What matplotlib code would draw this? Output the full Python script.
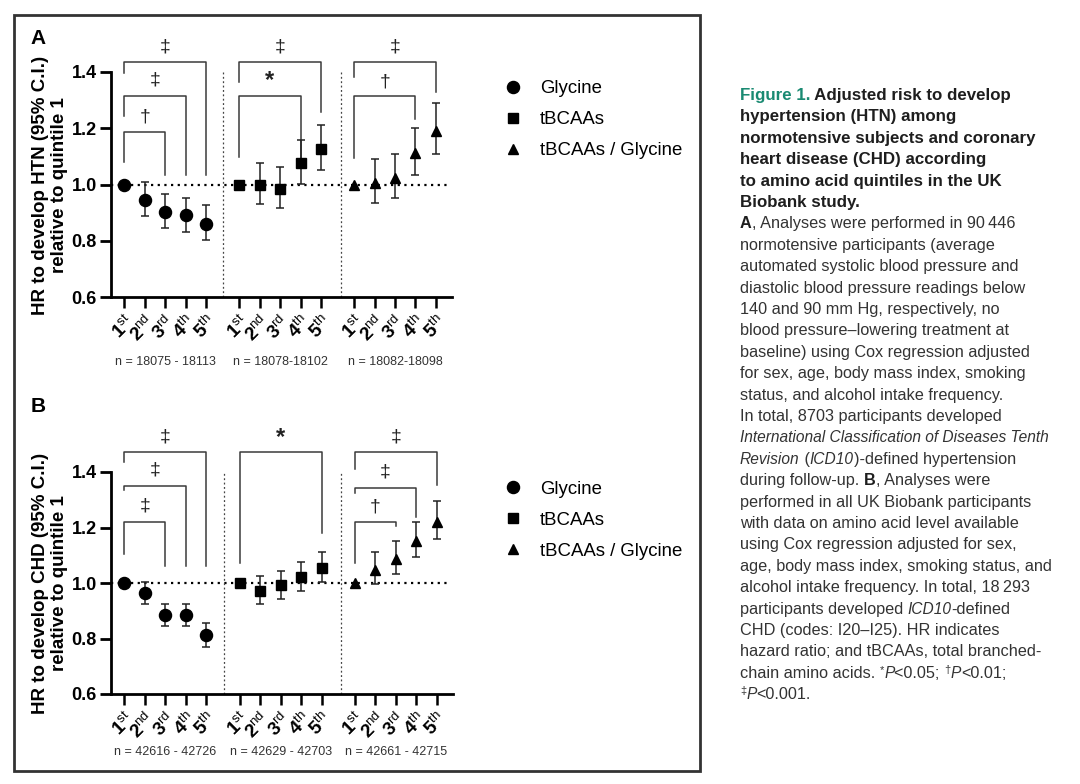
import numpy as np
import matplotlib
matplotlib.use('Agg')
import matplotlib.pyplot as plt
import matplotlib.transforms as mtransforms
from matplotlib.patches import Rectangle

plt.rcParams['font.family'] = ['Liberation Sans', 'DejaVu Sans']
plt.rcParams['mathtext.fontset'] = 'custom'
plt.rcParams['mathtext.rm'] = 'Liberation Sans'
plt.rcParams['mathtext.bf'] = 'Liberation Sans:bold'
plt.rcParams['mathtext.it'] = 'Liberation Sans:italic'

# ---------------- data ----------------
series_names = ["Glycine", "tBCAAs", "tBCAAs / Glycine"]
quintile_labels = [r"$\mathbf{1}^{\mathrm{st}}$", r"$\mathbf{2}^{\mathrm{nd}}$",
                   r"$\mathbf{3}^{\mathrm{rd}}$", r"$\mathbf{4}^{\mathrm{th}}$",
                   r"$\mathbf{5}^{\mathrm{th}}$"]

# Panel A: HTN
gly_A = [1.00, 0.945, 0.901, 0.891, 0.861]
gly_A_lo = [1.00, 0.889, 0.847, 0.832, 0.803]
gly_A_hi = [1.00, 1.008, 0.965, 0.952, 0.928]
bca_A = [1.00, 1.000, 0.984, 1.075, 1.126]
bca_A_lo = [1.00, 0.930, 0.916, 1.001, 1.050]
bca_A_hi = [1.00, 1.075, 1.061, 1.158, 1.210]
rat_A = [1.00, 1.005, 1.024, 1.110, 1.190]
rat_A_lo = [1.00, 0.934, 0.953, 1.033, 1.108]
rat_A_hi = [1.00, 1.089, 1.108, 1.201, 1.289]
n_A = ["n = 18075 - 18113", "n = 18078-18102", "n = 18082-18098"]
# brackets: (group, compared quintile, top, left leg end, right leg end, symbol, symbol y)
brackets_A = [
    (0, 4, 1.435, 1.396, 1.034, "‡", 1.489),
    (0, 3, 1.314, 1.243, 1.034, "‡", 1.370),
    (0, 2, 1.187, 1.081, 1.034, "†", 1.240),
    (1, 4, 1.435, 1.365, 1.258, "‡", 1.489),
    (1, 3, 1.314, 1.099, 1.057, "*", 1.370),
    (2, 4, 1.435, 1.382, 1.329, "‡", 1.489),
    (2, 3, 1.314, 1.093, 1.231, "†", 1.365),
]

# Panel B: CHD
gly_B = [1.00, 0.965, 0.883, 0.883, 0.811]
gly_B_lo = [1.00, 0.926, 0.846, 0.846, 0.768]
gly_B_hi = [1.00, 1.005, 0.926, 0.926, 0.856]
bca_B = [1.00, 0.972, 0.992, 1.022, 1.055]
bca_B_lo = [1.00, 0.924, 0.942, 0.972, 1.002]
bca_B_hi = [1.00, 1.024, 1.043, 1.076, 1.110]
rat_B = [1.00, 1.048, 1.086, 1.151, 1.221]
rat_B_lo = [1.00, 0.998, 1.031, 1.092, 1.159]
rat_B_hi = [1.00, 1.110, 1.150, 1.221, 1.295]
n_B = ["n = 42616 - 42726", "n = 42629 - 42703", "n = 42661 - 42715"]
brackets_B = [
    (0, 4, 1.473, 1.436, 1.060, "‡", 1.526),
    (0, 3, 1.350, 1.334, 1.060, "‡", 1.406),
    (0, 2, 1.219, 1.106, 1.060, "‡", 1.277),
    (1, 4, 1.473, 1.072, 1.180, "*", 1.526),
    (2, 4, 1.473, 1.412, 1.354, "‡", 1.526),
    (2, 3, 1.344, 1.324, 1.238, "‡", 1.400),
    (2, 2, 1.219, 1.072, 1.204, "†", 1.274),
]

# ---------------- layout ----------------
W, H = 1080, 784
fig = plt.figure(figsize=(W / 100, H / 100), dpi=100)
fig.patch.set_facecolor('white')


def fx(x):
    return x / W


def fy(y):
    return 1 - y / H


group_offsets = [0.0, 5.64, 11.27]
dividers = [4.86, 10.6]
markers = [("o", 8.7), ("s", 7.5), ("^", 7.5)]


def draw_panel(rect_px, ylim, data, brackets, n_labels, ylabel, letter,
               ylabel_y, legend_top, n_y):
    l, t, r, b = rect_px
    ax = fig.add_axes([fx(l), fy(b), (r - l) / W, (b - t) / H])
    ax.set_xlim(-0.67, 16.05)
    ax.set_ylim(*ylim)
    handles = []
    ticks = []
    for g, (vals, lo, hi) in enumerate(data):
        xs = group_offsets[g] + np.arange(5)
        ticks.extend(xs)
        vals = np.array(vals)
        lo = np.array(lo)
        hi = np.array(hi)
        m, ms = markers[g]
        ax.errorbar(xs[1:], vals[1:], yerr=[vals[1:] - lo[1:], hi[1:] - vals[1:]],
                    fmt='none', ecolor='#222222', elinewidth=1.1, capsize=3,
                    capthick=1.1, zorder=3)
        ln, = ax.plot(xs, vals, linestyle='none', marker=m, ms=ms, color='black',
                      zorder=4)
        handles.append(ln)
    ax.hlines(1.0, -0.67, 15.8, colors='black', linestyles=(0, (1, 2)), lw=1.6,
              zorder=2)
    for d in dividers:
        ax.vlines(d, 0.6, 1.4, colors='#444444', linestyles=(0, (1.5, 2)), lw=0.9)
    for (g, q, top, lend, rend, sym, sy) in brackets:
        x0 = group_offsets[g]
        x1 = group_offsets[g] + q
        ax.plot([x0, x0, x1, x1], [lend, top, top, rend], color='#3a3a3a', lw=1.1,
                clip_on=False, zorder=2)
        fw = 'bold' if sym == '*' else 'normal'
        fs = 17 if sym == '*' else 14
        ax.text((x0 + x1) / 2, sy, sym, ha='center', va='center', fontsize=fs,
                fontweight=fw, color='#222222')
    for s in ['top', 'right']:
        ax.spines[s].set_visible(False)
    ax.spines['left'].set_bounds(0.6, 1.4)
    for s in ['left', 'bottom']:
        ax.spines[s].set_linewidth(2)
    ax.set_yticks([0.6, 0.8, 1.0, 1.2, 1.4])
    ax.set_yticklabels(["0.6", "0.8", "1.0", "1.2", "1.4"], fontsize=13,
                       fontweight='bold')
    ax.tick_params(axis='y', length=8, width=2, pad=2)
    ax.set_xticks(ticks)
    ax.set_xticklabels(quintile_labels * 3, fontsize=13.5, rotation=45, ha='right',
                       va='top', rotation_mode='anchor')
    ax.tick_params(axis='x', length=8, width=1.8, pad=3)
    # n labels
    trans = mtransforms.blended_transform_factory(ax.transData, fig.transFigure)
    for g, txt in enumerate(n_labels):
        ax.text(group_offsets[g] + 2, fy(n_y), txt, transform=trans, ha='center',
                va='center', fontsize=9, color='#333333')
    # y label
    fig.text(fx(50), fy(ylabel_y), ylabel, rotation=90,
             ha='center', va='center', fontsize=13.5, fontweight='bold',
             multialignment='center', linespacing=1.2)
    # panel letter
    fig.text(fx(38), fy(letter[1]), letter[0], ha='center', va='center', fontsize=15,
             fontweight='bold')
    # legend
    ax.legend(handles, series_names, loc='upper left',
              bbox_to_anchor=(fx(503.7), fy(legend_top)), bbox_transform=fig.transFigure,
              frameon=False, fontsize=13.4, handlelength=1.0, handletextpad=0.95,
              labelspacing=0.76, borderpad=0, borderaxespad=0)
    return ax


draw_panel((110.7, 297.3 - 0.95 * 282, 451.7, 297.3), (0.6, 1.55),
           [(gly_A, gly_A_lo, gly_A_hi), (bca_A, bca_A_lo, bca_A_hi),
            (rat_A, rat_A_lo, rat_A_hi)], brackets_A, n_A,
           "HR to develop HTN (95% C.I.)\nrelative to quintile 1", ("A", 38), 185,
           80.0, 361.7)
draw_panel((110.7, 694 - 1.0 * 277.5, 452.7, 694), (0.6, 1.6),
           [(gly_B, gly_B_lo, gly_B_hi), (bca_B, bca_B_lo, bca_B_hi),
            (rat_B, rat_B_lo, rat_B_hi)], brackets_B, n_B,
           "HR to develop CHD (95% C.I.)\nrelative to quintile 1", ("B", 406), 583,
           480.5, 751.7)

# frame around figure panels
fig.patches.append(Rectangle((fx(14), fy(771)), (700 - 14) / W, (771 - 15) / H,
                             transform=fig.transFigure, fill=False, lw=2,
                             edgecolor='#333333'))

# ---------------- caption ----------------
styles = {
    'teal': dict(fontweight='bold', color='#1a8a72', fontsize=12.2),
    'bold': dict(fontweight='bold', color='#1e1e1e', fontsize=12.2),
    'bodyb': dict(fontweight='bold', color='#1e1e1e', fontsize=11.7),
    'reg': dict(color='#333333', fontsize=11.7),
    'ital': dict(style='italic', color='#333333', fontsize=11.2),
    'sup': dict(color='#333333', fontsize=8, dy=5),
}
caption = [
    [("Figure 1.", 'teal'), (" Adjusted risk to develop", 'bold')],
    [("hypertension (HTN) among", 'bold')],
    [("normotensive subjects and coronary", 'bold')],
    [("heart disease (CHD) according", 'bold')],
    [("to amino acid quintiles in the UK", 'bold')],
    [("Biobank study.", 'bold')],
    [("A", 'bodyb'), (", Analyses were performed in 90\u2009446", 'reg')],
    [("normotensive participants (average", 'reg')],
    [("automated systolic blood pressure and", 'reg')],
    [("diastolic blood pressure readings below", 'reg')],
    [("140 and 90 mm Hg, respectively, no", 'reg')],
    [("blood pressure\u2013lowering treatment at", 'reg')],
    [("baseline) using Cox regression adjusted", 'reg')],
    [("for sex, age, body mass index, smoking", 'reg')],
    [("status, and alcohol intake frequency.", 'reg')],
    [("In total, 8703 participants developed", 'reg')],
    [("International Classification of Diseases Tenth", 'ital')],
    [("Revision", 'ital'), (" (", 'reg'), ("ICD10", 'ital'), (")-defined hypertension", 'reg')],
    [("during follow-up. ", 'reg'), ("B", 'bodyb'), (", Analyses were", 'reg')],
    [("performed in all UK Biobank participants", 'reg')],
    [("with data on amino acid level available", 'reg')],
    [("using Cox regression adjusted for sex,", 'reg')],
    [("age, body mass index, smoking status, and", 'reg')],
    [("alcohol intake frequency. In total, 18\u2009293", 'reg')],
    [("participants developed ", 'reg'), ("ICD10", 'ital'), ("-defined", 'reg')],
    [("CHD (codes: I20\u2013I25). HR indicates", 'reg')],
    [("hazard ratio; and tBCAAs, total branched-", 'reg')],
    [("chain amino acids. ", 'reg'), ("*", 'sup'), ("P", 'ital'), ("<0.05; ", 'reg'),
     ("\u2020", 'sup'), ("P", 'ital'), ("<0.01;", 'reg')],
    [("\u2021", 'sup'), ("P", 'ital'), ("<0.001.", 'reg')],
]

renderer = fig.canvas.get_renderer()


def text_width(s, props):
    tt = fig.text(0, 0, s + '|', **props)
    w1 = tt.get_window_extent(renderer).width
    tt.set_text('|')
    w2 = tt.get_window_extent(renderer).width
    tt.remove()
    return w1 - w2


for i, line in enumerate(caption):
    y = 100 + i * 21.4
    x = 740.0
    for txt, st in line:
        props = dict(styles[st])
        dy = props.pop('dy', 0)
        props['family'] = ['Liberation Sans', 'DejaVu Sans']
        fig.text(fx(x), fy(y - dy), txt, ha='left', va='baseline', **props)
        x += text_width(txt, props)

fig.savefig('out.png', dpi=100, facecolor='white')
